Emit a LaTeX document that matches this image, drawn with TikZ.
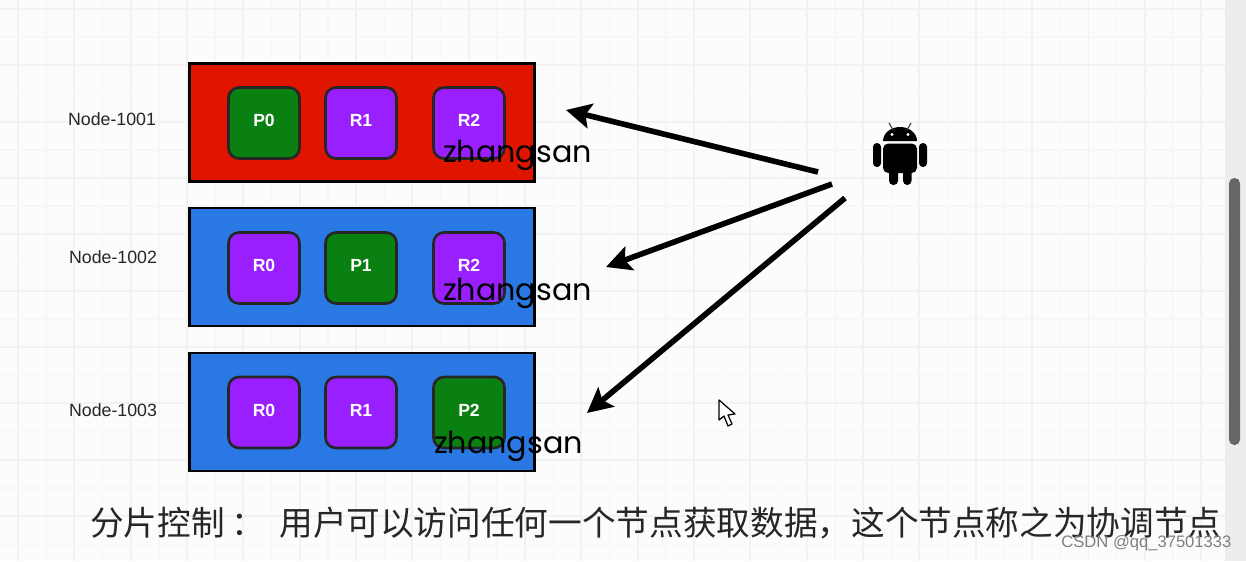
\documentclass[tikz,border=0pt]{standalone}
\usepackage{fontspec}
\usepackage{xcolor}
\setmainfont{Liberation Sans}
\newfontfamily\cjkfont{Noto Sans CJK SC}[Scale=1.0]
\newfontfamily\handfont{Poppins}
\usetikzlibrary{arrows.meta}

\begin{document}
\begin{tikzpicture}[
    x=0.02cm,
    y=0.02cm,
    font=\sffamily,
    brokerbox/.style={
        rectangle,
        draw=black,
        fill=#1,
        line width=1.6pt,
        minimum width=6.9cm,
        minimum height=2.36cm
    },
    partbox/.style={
        rectangle,
        rounded corners=6pt,
        draw=black!85,
        fill=#1,
        line width=1.5pt,
        minimum width=1.42cm,
        minimum height=1.42cm,
        text height=7pt,
        text depth=3pt,
        text=white,
        font=\fontsize{10}{12}\selectfont\rmfamily\bfseries
    },
    brokerlabel/.style={
        font=\fontsize{10.1}{12}\selectfont\rmfamily,
        text=black!85
    },
    replicatext/.style={
        font=\fontsize{17.2}{20}\selectfont\handfont,
        text=black
    },
    requestarrow/.style={
        -{Stealth[length=5mm,width=5mm,inset=1mm]},
        line width=3.2pt,
        draw=black
    },
    gridmajor/.style={
        line width=1.1pt,
        draw=black!5
    },
    gridminor/.style={
        line width=0.8pt,
        draw=black!3
    }
]

\definecolor{brokerred}{RGB}{223,21,0}
\definecolor{brokerblue}{RGB}{42,120,228}
\definecolor{leadergreen}{RGB}{10,128,18}
\definecolor{replicapurple}{RGB}{154,31,255}

\useasboundingbox (0,0) rectangle (1246,-561);

% Canvas
\fill[black!1] (0,0) rectangle (1246,-561);
\foreach \i in {0,2,...,42} {
    \draw[gridminor] ({18+28.17*(\i+1)},0) -- ++(0,-561);
    \draw[gridmajor] ({18+28.17*\i},0) -- ++(0,-561);
}
\foreach \i in {0,2,...,20} {
    \draw[gridminor] (0,{-9-28.17*(\i+1)}) -- ++(1246,0);
    \draw[gridmajor] (0,{-9-28.17*\i}) -- ++(1246,0);
}
\fill[black!7] (1225,0) rectangle (1246,-561);
\fill[black!60, rounded corners=3pt] (1229,-178) rectangle (1240,-445);

% Brokers
\node[brokerbox=brokerred] (broker1) at (362,-122.5) {};
\node[brokerbox=brokerblue] (broker2) at (362,-267) {};
\node[brokerbox=brokerblue] (broker3) at (362,-412) {};

\node[brokerlabel] (label1) at (112,-119) {Node-1001};
\node[brokerlabel] (label2) at (113,-257) {Node-1002};
\node[brokerlabel] (label3) at (113,-410) {Node-1003};

% Partitions
\node[partbox=leadergreen] (p0a) at (264,-123) {P0};
\node[partbox=replicapurple] (r1a) at (361,-123) {R1};
\node[partbox=replicapurple] (r2a) at (469,-123) {R2};

\node[partbox=replicapurple] (r0b) at (264,-268) {R0};
\node[partbox=leadergreen] (p1b) at (361,-268) {P1};
\node[partbox=replicapurple] (r2b) at (469,-268) {R2};

\node[partbox=replicapurple] (r0c) at (264,-412.5) {R0};
\node[partbox=replicapurple] (r1c) at (361,-412.5) {R1};
\node[partbox=leadergreen] (p2c) at (469,-412.5) {P2};

\node[replicatext] (value1) at (517.5,-155) {zhangsan};
\node[replicatext] (value2) at (517.5,-293) {zhangsan};
\node[replicatext] (value3) at (508.5,-446) {zhangsan};

% Client
\fill[black] (883,-141) arc[start angle=180,end angle=0,x radius=17,y radius=14] -- cycle;
\fill[black, rounded corners=3pt] (883,-143.5) -- (883,-173) -- (917,-173) -- (917,-143.5) -- cycle;
\fill[black, rounded corners=2.2pt] (873,-143) rectangle (881,-167);
\fill[black, rounded corners=2.2pt] (919,-143) rectangle (927,-167);
\fill[black, rounded corners=2.4pt] (889,-165) rectangle (898,-185);
\fill[black, rounded corners=2.4pt] (903,-165) rectangle (911.5,-185);
\draw[black!70, line width=0.7pt] (889,-123) -- (893,-130);
\draw[black!70, line width=0.7pt] (911,-123) -- (907,-130);
\fill[white] (892,-134.5) circle (1.6);
\fill[white] (908,-134.5) circle (1.6);

% Requests
\coordinate (client1) at (818,-172);
\coordinate (client2) at (832,-184);
\coordinate (client3) at (845,-198);
\coordinate (target1) at (566,-110);
\coordinate (target2) at (606,-267);
\coordinate (target3) at (587,-413);
\draw[requestarrow] (client1) -- (target1);
\draw[requestarrow] (client2) -- (target2);
\draw[requestarrow] (client3) -- (target3);

% Pointer
\draw[black, fill=white, line width=0.7pt, line join=round] (719,-400) -- (719,-420) -- (724,-416) -- (728,-426) -- (732,-424) -- (728,-415) -- (735,-414) -- cycle;

% Caption
\node[anchor=west, inner sep=0pt, font=\fontsize{19.15}{22}\selectfont\cjkfont, text=black!85] (caption) at (90,-523) {分片控制\hspace{0.2em}：\hspace{0.42em}用户可以访问任何一个节点获取数据，这个节点称之为协调节点};
\node[anchor=west, inner sep=0pt, font=\fontsize{9.45}{12}\selectfont\rmfamily, text=black!50] (mark) at (1061,-543) {CSDN @qq\_37501333};

\end{tikzpicture}
\end{document}
